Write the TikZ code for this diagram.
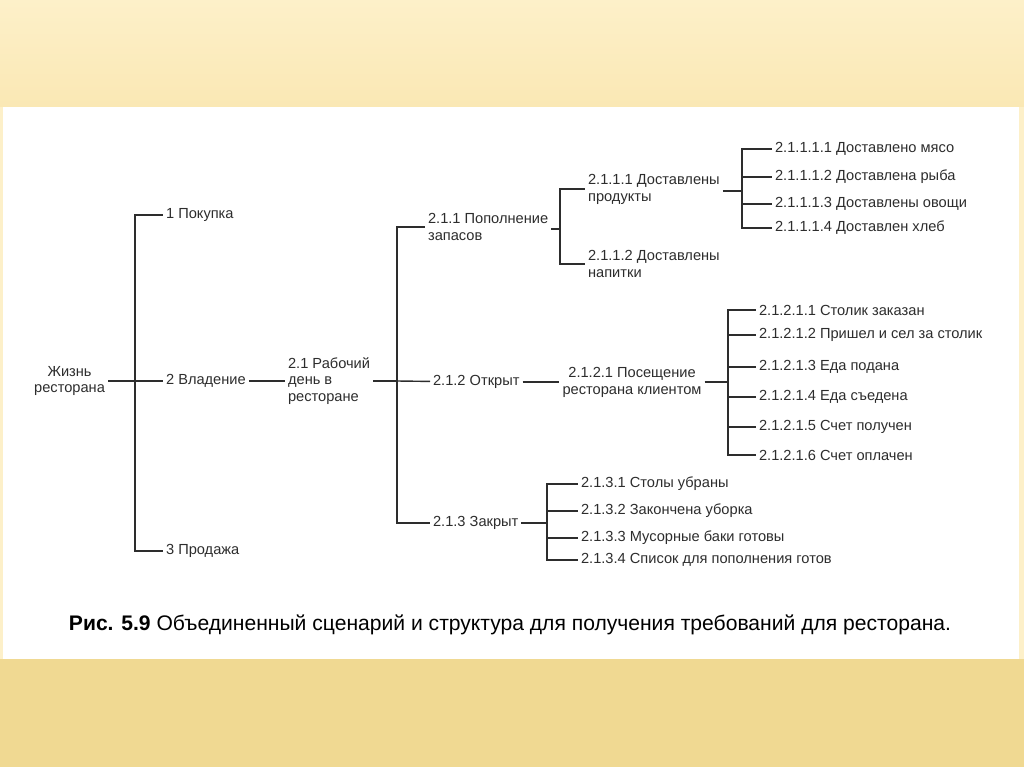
\documentclass[tikz,border=0pt]{standalone}
\usepackage{fontspec}
\setmainfont{Liberation Sans}
\usepackage{xcolor}
\usepackage{tikz}
\usetikzlibrary{positioning,calc}
\definecolor{slidetop}{RGB}{253,240,201}
\definecolor{slidestripe}{RGB}{250,232,180}
\definecolor{slidebottom}{RGB}{240,217,146}
\definecolor{inkgray}{RGB}{45,45,45}

\begin{document}
\begin{tikzpicture}[
    x=0.025cm, y=-0.025cm,
    item/.style={anchor=west, inner sep=2pt, align=left, text=inkgray, font=\fontsize{10.4}{12}\selectfont},
    link/.style={draw=inkgray, line width=1pt}
  ]
    % Slide background
    \useasboundingbox (0,0) rectangle (1024,767);
    \shade[top color=slidetop, bottom color=slidestripe] (0,0) rectangle (1024,107);
    \fill[slidebottom] (0,659) rectangle (1024,767);
    \fill[slidetop] (0,107) rectangle (1024,659);
    \fill[white] (3,107) rectangle (1019,659);

    % Level 0 and 1
    \node[item, anchor=east, align=center] (life) at (108,381) {Жизнь\\ресторана};
    \node[item] (buy) at (163,215) {1 Покупка};
    \node[item] (own) at (163,381) {2 Владение};
    \node[item] (sell) at (163,551) {3 Продажа};

    % Level 2
    \node[item] (day) at (285,381) {2.1 Рабочий\\день в\\ресторане};
    \node[item] (stock) at (425,227) {2.1.1 Пополнение\\запасов};
    \node[item] (open) at (430,382) {2.1.2 Открыт};
    \node[item] (closed) at (430,523) {2.1.3 Закрыт};

    % Stock
    \node[item] (goods) at (585,189) {2.1.1.1 Доставлены\\продукты};
    \node[item] (drinks) at (585,264) {2.1.1.2 Доставлены\\напитки};
    \node[item] (meat) at (772,149) {2.1.1.1.1 Доставлено мясо};
    \node[item] (fish) at (772,177) {2.1.1.1.2 Доставлена рыба};
    \node[item] (veg) at (772,204) {2.1.1.1.3 Доставлены овощи};
    \node[item] (bread) at (772,228) {2.1.1.1.4 Доставлен хлеб};

    % Open
    \node[item, anchor=center, align=center] (visit) at (632,382) {2.1.2.1 Посещение\\ресторана клиентом};
    \node[item] (booked) at (756,310) {2.1.2.1.1 Столик заказан};
    \node[item] (seated) at (756,335) {2.1.2.1.2 Пришел и сел за столик};
    \node[item] (served) at (756,367) {2.1.2.1.3 Еда подана};
    \node[item] (eaten) at (756,397) {2.1.2.1.4 Еда съедена};
    \node[item] (billed) at (756,427) {2.1.2.1.5 Счет получен};
    \node[item] (paid) at (756,455) {2.1.2.1.6 Счет оплачен};

    % Closed
    \node[item] (tables) at (578,484) {2.1.3.1 Столы убраны};
    \node[item] (cleaned) at (578,511) {2.1.3.2 Закончена уборка};
    \node[item] (bins) at (578,538) {2.1.3.3 Мусорные баки готовы};
    \node[item] (list) at (578,560) {2.1.3.4 Список для пополнения готов};

    % Junctions
    \coordinate (jlife) at (135,381);
    \coordinate (jday) at (397,381);
    \coordinate (jstock) at (560,229);
    \coordinate (jgoods) at (742,191);
    \coordinate (jvisit) at (728,382);
    \coordinate (jclosed) at (547,523);

    % Connections
    \draw[link] (life) -- (jlife);
    \draw[link] (jlife) |- (buy);
    \draw[link] (jlife) -- (own);
    \draw[link] (jlife) |- (sell);
    \draw[link] (own) -- (day);
    \draw[link] (day) -- (jday);
    \draw[link] (jday) |- (stock);
    \draw[link] (jday) -- (open);
    \draw[link] (jday) |- (closed);
    \draw[link] (stock.east |- jstock) -- (jstock);
    \draw[link] (jstock) |- (goods);
    \draw[link] (jstock) |- (drinks);
    \draw[link] (goods.east |- jgoods) -- (jgoods);
    \draw[link] (jgoods) |- (meat);
    \draw[link] (jgoods) |- (fish);
    \draw[link] (jgoods) |- (veg);
    \draw[link] (jgoods) |- (bread);
    \draw[link] (open) -- (visit);
    \draw[link] (visit) -- (jvisit);
    \draw[link] (jvisit) |- (booked);
    \draw[link] (jvisit) |- (seated);
    \draw[link] (jvisit) |- (served);
    \draw[link] (jvisit) |- (eaten);
    \draw[link] (jvisit) |- (billed);
    \draw[link] (jvisit) |- (paid);
    \draw[link] (closed) -- (jclosed);
    \draw[link] (jclosed) |- (tables);
    \draw[link] (jclosed) |- (cleaned);
    \draw[link] (jclosed) |- (bins);
    \draw[link] (jclosed) |- (list);

    % Caption
    \node[text=black, font=\fontsize{15}{18}\selectfont] (caption) at (510,625)
      {\textbf{Рис. 5.9} Объединенный сценарий и структура для получения требований для ресторана.};
  \end{tikzpicture}
\end{document}
